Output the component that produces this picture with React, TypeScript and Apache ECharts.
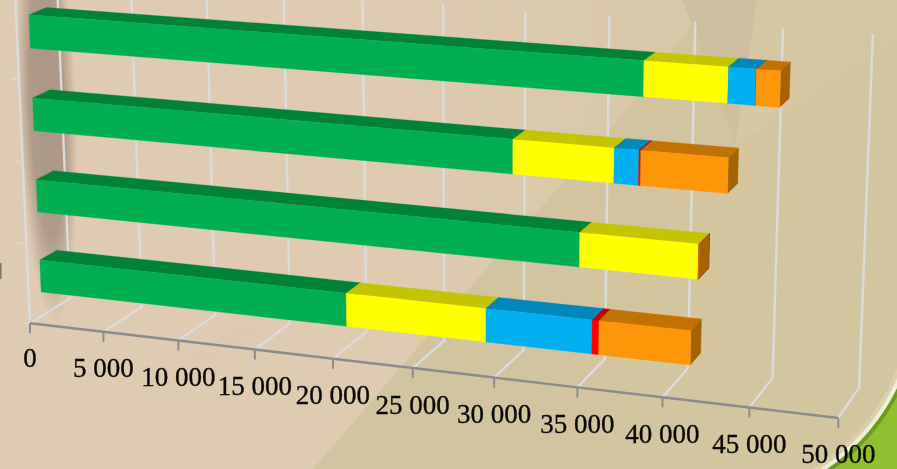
import React, { useEffect, useRef } from "react";
import * as echarts from "echarts";

const W = 897;
const H = 469;

// ---- data (bottom bar first) ----
const categories = ["1", "2", "3", "4"];
const green = [20240, 34540, 30540, 38140];
const yellow = [8700, 6950, 5970, 4780];
const blue = [6400, 0, 1430, 1550];
const red = [400, 0, 100, 0];
const orange = [5400, 0, 5000, 1350];
const tickValues = [0, 5000, 10000, 15000, 20000, 25000, 30000, 35000, 40000, 45000, 50000];
const tickLabels = ["0", "5 000", "10 000", "15 000", "20 000", "25 000", "30 000", "35 000", "40 000", "45 000", "50 000"];
const AXIS_MAX = 50000;

const seriesDefs = [
  { name: "green", values: green, front: "#00B050", top: "#008337", end: "#007034" },
  { name: "yellow", values: yellow, front: "#FFFF00", top: "#C4C400", end: "#A66300" },
  { name: "blue", values: blue, front: "#00B0F0", top: "#0088BA", end: "#007AA6" },
  { name: "red", values: red, front: "#FF0000", top: "#C40000", end: "#A60000" },
  { name: "orange", values: orange, front: "#FF9509", top: "#C27202", end: "#A66302" },
];

// ---- camera calibration of the 3D box: [t, depth, height, screenX, screenY] ----
const calibration: number[][] = [
  [0, 0, 0, 30, 324], [.1, 0, 0, 103, 333], [.2, 0, 0, 179, 341], [.3, 0, 0, 255, 350], [.4, 0, 0, 333, 359],
  [.5, 0, 0, 413, 368], [.6, 0, 0, 494, 378], [.7, 0, 0, 577, 387], [.8, 0, 0, 662, 397], [.9, 0, 0, 750, 407], [1, 0, 0, 838, 417],
  [0, 1, 0, 70, 298], [.1, 1, 0, 142, 305], [.2, 1, 0, 215, 314], [.3, 1, 0, 290, 323], [.4, 1, 0, 367, 331],
  [.5, 1, 0, 444, 339], [.6, 1, 0, 524, 350], [.7, 1, 0, 605, 360], [.8, 1, 0, 689, 369], [.9, 1, 0, 772, 380], [1, 1, 0, 858, 389],
  [0, 1, 1, 56, -21], [.1, 1, 1, 131, -16], [.2, 1, 1, 206, -11], [.3, 1, 1, 283, -6], [.4, 1, 1, 363, -1],
  [.5, 1, 1, 443, 5], [.6, 1, 1, 526, 10], [.7, 1, 1, 610, 16], [.8, 1, 1, 696, 22], [.9, 1, 1, 783, 28], [1, 1, 1, 872, 33],
  [0, 0, .25, 26, 243], [0, 0, .5, 22, 161], [0, 0, .75, 19, 78], [0, 0, 1, 16, -5],
];

function solve(A: number[][], b: number[]) {
  const n = b.length;
  const M = A.map((r, i) => [...r, b[i]]);
  for (let c = 0; c < n; c++) {
    let p = c;
    for (let r = c + 1; r < n; r++) if (Math.abs(M[r][c]) > Math.abs(M[p][c])) p = r;
    [M[c], M[p]] = [M[p], M[c]];
    for (let r = 0; r < n; r++) {
      if (r === c) continue;
      const f = M[r][c] / M[c][c];
      for (let k = c; k <= n; k++) M[r][k] -= f * M[c][k];
    }
  }
  return M.map((r, i) => r[n] / r[i]);
}

function fitCamera() {
  const rows: number[][] = [];
  const rhs: number[] = [];
  for (const [x, y, z, u, v] of calibration) {
    rows.push([x, y, z, 1, 0, 0, 0, 0, -u * x, -u * y, -u * z]);
    rhs.push(u);
    rows.push([0, 0, 0, 0, x, y, z, 1, -v * x, -v * y, -v * z]);
    rhs.push(v);
  }
  const n = 11;
  const ata = Array.from({ length: n }, () => new Array(n).fill(0));
  const atb = new Array(n).fill(0);
  rows.forEach((r, k) => {
    for (let i = 0; i < n; i++) {
      atb[i] += r[i] * rhs[k];
      for (let j = 0; j < n; j++) ata[i][j] += r[i] * r[j];
    }
  });
  return solve(ata, atb);
}
const cam = fitCamera();
function project(t: number, d: number, h: number): number[] {
  const w = cam[8] * t + cam[9] * d + cam[10] * h + 1;
  return [
    (cam[0] * t + cam[1] * d + cam[2] * h + cam[3]) / w,
    (cam[4] * t + cam[5] * d + cam[6] * h + cam[7]) / w,
  ];
}

// bar depth inside the floor and bar thickness in its category band
const D0 = 0.3;
const D1 = 0.72;
const BAR = 0.4;

// grid pixels -> normalised box coordinates
const toBox = (c: number[]) => [c[0] / W, (H - c[1]) / H];

function renderSegment(def: any) {
  return (_p: any, api: any) => {
    const a = toBox(api.coord([api.value(0), api.value(2)]));
    const b = toBox(api.coord([api.value(1), api.value(2)]));
    const band = api.size([0, 1])[1] / H;
    const h0 = a[1] - (band * BAR) / 2;
    const h1 = a[1] + (band * BAR) / 2;
    const t0 = a[0];
    const t1 = b[0];
    const poly = (pts: number[][], fill: string) => ({
      type: "polygon",
      shape: { points: pts },
      style: { fill, stroke: fill, lineWidth: 0.3 },
    });
    return {
      type: "group",
      children: [
        poly([project(t0, D0, h1), project(t1, D0, h1), project(t1, D1, h1), project(t0, D1, h1)], def.top),
        poly([project(t1, D0, h0), project(t1, D1, h0), project(t1, D1, h1), project(t1, D0, h1)], def.end),
        poly([project(t0, D0, h0), project(t1, D0, h0), project(t1, D0, h1), project(t0, D0, h1)], def.front),
      ],
    };
  };
}

const GRID = "#DBDBDB";
const AXIS = "#8C8C8C";

function renderTick(_p: any, api: any) {
  const t = toBox(api.coord([api.value(0), 0]))[0];
  const a = project(t, 0, 0);
  const b = project(t, 1, 0);
  const c = project(t, 1, 1);
  return {
    type: "group",
    children: [
      { type: "polyline", shape: { points: [a, b, c] }, style: { stroke: GRID, lineWidth: 2.4, fill: "none" } },
    ],
  };
}

function renderAxisPart(p: any, api: any) {
  const i = p.dataIndex;
  const t = toBox(api.coord([api.value(0), 0]))[0];
  const a = project(t, 0, 0);
  const next = i < tickValues.length - 1 ? project(toBox(api.coord([tickValues[i + 1], 0]))[0], 0, 0) : null;
  const children: any[] = [
    { type: "line", shape: { x1: a[0], y1: a[1], x2: a[0], y2: a[1] + 10 }, style: { stroke: AXIS, lineWidth: 2 } },
    {
      type: "text",
      x: a[0],
      y: a[1] + (i === 0 ? 35 : 36.5),
      style: {
        text: tickLabels[i],
        fontFamily: "Liberation Serif",
        fontSize: 27,
        fill: "#0A0A0A",
        stroke: "#0A0A0A",
        lineWidth: 0.35,
        align: "center",
        verticalAlign: "middle",
      },
    },
  ];
  if (next) children.push({ type: "line", shape: { x1: a[0], y1: a[1], x2: next[0], y2: next[1] }, style: { stroke: AXIS, lineWidth: 2.5 } });
  return { type: "group", children };
}

function renderWallEdge(_p: any, api: any) {
  const h = (H - api.coord([0, api.value(1)])[1]) / H;
  const h2 = api.size([0, 1])[1] / H / 2;
  const low = h - h2;
  const p = project(0, 0, low);
  const q = project(0, 0, low + 2 * h2);
  return {
    type: "group",
    children: [
      { type: "line", shape: { x1: p[0] - 8, y1: p[1], x2: p[0], y2: p[1] }, style: { stroke: GRID, lineWidth: 1.5 } },
      { type: "line", shape: { x1: p[0], y1: p[1], x2: q[0], y2: q[1] }, style: { stroke: GRID, lineWidth: 2.4 } },
    ],
  };
}

function arcPoly(cx: number, cy: number, r: number) {
  const pts: number[][] = [];
  for (let deg = -10; deg <= 100; deg += 2) {
    const a = (deg * Math.PI) / 180;
    pts.push([cx + r * Math.cos(a), cy + r * Math.sin(a)]);
  }
  pts.push([W + 200, H + 200]);
  return pts;
}

const facet = (points: number[][], fill: string, opacity = 1) => ({
  type: "polygon",
  z: -5,
  silent: true,
  shape: { points },
  style: { fill, opacity },
});

const background: any[] = [
  {
    type: "rect",
    z: -6,
    silent: true,
    shape: { x: 0, y: 0, width: W, height: H },
    style: {
      fill: {
        type: "linear", x: 0, y: 0, x2: 1, y2: 0,
        colorStops: [
          { offset: 0, color: "#DFCBB2" },
          { offset: 0.45, color: "#DFCBB0" },
          { offset: 0.72, color: "#D9C8A8" },
          { offset: 1, color: "#D4C69F" },
        ],
      },
    },
  },
  facet([[313, 469], [450, 310], [610, 130], [692, 25], [735, 145], [800, 469]], "#D1C39D", 0.85),
  facet([[640, 260], [735, 145], [897, 40], [897, 380], [820, 469], [600, 469]], "#D3C59E"),
  facet([[682, 0], [692, 25], [735, 145], [757, 0]], "#CEC09E"),
  facet([[692, 25], [620, 100], [560, 190], [590, 110]], "#D8C9A8", 0.6),
  facet([[0, 469], [0, 460], [230, 330], [300, 310], [30, 469]], "#DDCAAF", 0.8),
  {
    type: "ellipse",
    z: -4,
    silent: true,
    originX: 47,
    originY: 105,
    rotation: 0.04,
    shape: { cx: 47, cy: 105, rx: 29, ry: 218 },
    style: {
      fill: {
        type: "radial", x: 0.5, y: 0.5, r: 0.5,
        colorStops: [
          { offset: 0, color: "rgba(150,130,115,0.72)" },
          { offset: 0.6, color: "rgba(150,130,115,0.66)" },
          { offset: 1, color: "rgba(150,130,115,0)" },
        ],
      },
    },
  },
  facet(arcPoly(710, 297, 200), "#DAD0AC"),
  facet(arcPoly(710, 297, 204), "#F1EFD6"),
  facet(arcPoly(710, 297, 208), "#6F9A20"),
  facet(arcPoly(710, 297, 212), "#90C030"),
  { type: "rect", z: -3, silent: true, shape: { x: 0, y: 263, width: 1.6, height: 16 }, style: { fill: "#7A7A70" } },
];

export default function App() {
  const ref = useRef<HTMLDivElement>(null);
  useEffect(() => {
    const chart = echarts.init(ref.current!, undefined, { renderer: "svg" });
    const series: any[] = [
      {
        type: "custom",
        name: "wall",
        silent: true,
        clip: false,
        renderItem: renderWallEdge,
        data: categories.map((_, i) => [0, i]),
        encode: { x: 0, y: 1 },
      },
      {
        type: "custom",
        name: "grid",
        silent: true,
        clip: false,
        renderItem: renderTick,
        data: tickValues.map((v) => [v, 0]),
        encode: { x: 0, y: 1 },
      },
      {
        type: "custom",
        name: "axis",
        silent: true,
        clip: false,
        renderItem: renderAxisPart,
        data: tickValues.map((v) => [v, 0]),
        encode: { x: 0, y: 1 },
      },
    ];
    const running = categories.map(() => 0);
    seriesDefs.forEach((def) => {
      const data = def.values.map((v, i) => {
        const row = [running[i], running[i] + v, i];
        running[i] += v;
        return row;
      });
      series.push({
        type: "custom",
        name: def.name,
        silent: true,
        clip: false,
        renderItem: renderSegment(def),
        data,
        encode: { x: [0, 1], y: 2 },
      });
    });
    chart.setOption({
      animation: false,
      backgroundColor: "transparent",
      grid: { left: 0, top: 0, width: W, height: H, containLabel: false },
      xAxis: { type: "value", min: 0, max: AXIS_MAX, show: false },
      yAxis: { type: "category", data: categories, show: false },
      graphic: { elements: background },
      series,
    });
    return () => chart.dispose();
  }, []);
  return <div ref={ref} style={{ position: "fixed", left: 0, top: 0, width: W, height: H }} />;
}
